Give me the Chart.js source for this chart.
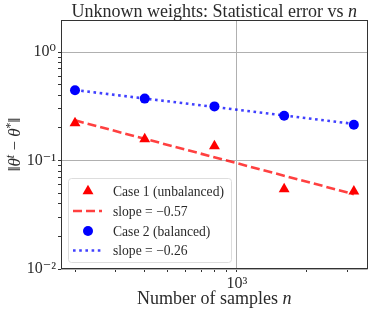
<!DOCTYPE html>
<html>
<head>
<meta charset="utf-8">
<script src="https://cdn.jsdelivr.net/npm/chart.js@4"></script>
<style>
  body { margin: 0; background: #fff; }
  canvas { display: block; }
</style>
</head>
<body>
<canvas id="myChart" width="374" height="312"></canvas>
<script>
// data
const nSamples = [200, 400, 800, 1600, 3200];
const case1Err = [0.222, 0.158, 0.136, 0.0547, 0.052];
const case2Err = [0.445, 0.373, 0.316, 0.259, 0.214];
const fitN = [200, 3200];
const case1Fit = [0.235, 0.049];
const case2Fit = [0.447, 0.218];

const seriesLabels = ["Case 1 (unbalanced)", "slope = \u22120.57", "Case 2 (balanced)", "slope = \u22120.26"];

const xMajorTicks = [1000];
const xMajorLabels = ["10\u00b3"];
const yMajorTicks = [0.01, 0.1, 1];
const yMajorLabels = ["10\u207b\u00b2", "10\u207b\u00b9", "10\u2070"];

const FAM = "'Liberation Serif', 'DejaVu Serif', serif";

function pts(xs, ys) {
    return xs.map((x, i) => ({x: x, y: ys[i]}));
}

function isMajor(v, majors) {
    return majors.some(m => Math.abs(v - m) / m < 1e-6);
}

// minor ticks 1..9 x 10^k between min and max
function logTicks(min, max) {
    var out = [];
    for (var e = Math.floor(Math.log10(min)); e <= Math.ceil(Math.log10(max)); e++) {
        for (var s = 1; s < 10; s++) {
            var v = s * Math.pow(10, e);
            if (v >= min && v <= max) out.push({value: v});
        }
    }
    return out;
}

// draw text made of runs (normal / italic / superscript), centred on cx
function drawRuns(ctx, runs, cx, cy, size) {
    var widths = [], total = 0;
    runs.forEach(r => {
        ctx.font = (r.italic ? "italic " : "") + (r.sup ? size * 0.7 : size) + "px " + FAM;
        var w = ctx.measureText(r.text).width;
        widths.push(w);
        total += w;
    });
    var x = cx - total / 2;
    runs.forEach((r, i) => {
        ctx.font = (r.italic ? "italic " : "") + (r.sup ? size * 0.7 : size) + "px " + FAM;
        ctx.fillText(r.text, x, cy - (r.sup ? size * 0.38 : 0));
        x += widths[i];
    });
}

const textPlugin = {
    id: "texts",
    afterDraw(chart) {
        var ctx = chart.ctx, a = chart.chartArea;
        ctx.save();
        // frame
        ctx.strokeStyle = "#333";
        ctx.lineWidth = 1;
        ctx.strokeRect(Math.round(a.left) + 0.5, Math.round(a.top) + 0.5,
            Math.round(a.right - a.left) - 1, Math.round(a.bottom - a.top) - 1);

        ctx.fillStyle = "#2a2a2a";
        ctx.textBaseline = "alphabetic";
        ctx.textAlign = "left";
        var cx = (a.left + a.right) / 2;
        drawRuns(ctx, [{text: "Unknown weights: Statistical error vs "}, {text: "n", italic: true}], cx, 17, 18);
        drawRuns(ctx, [{text: "Number of samples "}, {text: "n", italic: true}], cx, 304, 18);

        ctx.translate(20, (a.top + a.bottom) / 2);
        ctx.rotate(-Math.PI / 2);
        drawRuns(ctx, [
            {text: "\u2016"}, {text: "\u03b8", italic: true}, {text: "t", italic: true, sup: true},
            {text: " \u2212 "}, {text: "\u03b8", italic: true}, {text: "*", sup: true}, {text: "\u2016"}
        ], 0, 0, 17);
        ctx.restore();
    },
    afterDatasetsDraw(chart) {
        // legend box in the lower left of the plot
        var ctx = chart.ctx;
        var ds = chart.data.datasets;
        var bx = 68, by = 178, bw = 163, bh = 84;
        ctx.save();
        ctx.fillStyle = "rgba(255,255,255,0.8)";
        ctx.strokeStyle = "#ddd";
        ctx.lineWidth = 1;
        ctx.beginPath();
        ctx.roundRect(bx + 0.5, by + 0.5, bw, bh, 3);
        ctx.fill();
        ctx.stroke();
        ctx.font = "13.6px " + FAM;
        ctx.textBaseline = "middle";
        var rows = [191, 211, 231, 250.5];
        ds.forEach((d, i) => {
            var y = rows[i];
            if (d.showLine === false) {
                ctx.fillStyle = d.pointBackgroundColor;
                Chart.helpers.drawPoint(ctx, {pointStyle: d.pointStyle, rotation: 0, borderWidth: 0, radius: d.pointRadius}, 88, y);
            } else {
                ctx.strokeStyle = d.borderColor;
                ctx.lineWidth = d.borderWidth;
                ctx.setLineDash(d.borderDash);
                ctx.beginPath();
                ctx.moveTo(73, y);
                ctx.lineTo(102, y);
                ctx.stroke();
                ctx.setLineDash([]);
            }
            ctx.fillStyle = "#2a2a2a";
            ctx.fillText(d.label, 113, y + 1);
        });
        ctx.restore();
    }
};

const ctx = document.getElementById("myChart").getContext("2d");

new Chart(ctx, {
    type: "line",
    data: {
        datasets: [
            {
                label: seriesLabels[0],
                data: pts(nSamples, case1Err),
                showLine: false,
                pointStyle: "triangle",
                pointRadius: 6.3,
                pointBackgroundColor: "#ff0000",
                pointBorderWidth: 0,
                borderColor: "#ff0000"
            },
            {
                label: seriesLabels[1],
                data: pts(fitN, case1Fit),
                borderColor: "rgba(255,0,0,0.75)",
                borderWidth: 2.6,
                borderDash: [9, 4],
                pointRadius: 0
            },
            {
                label: seriesLabels[2],
                data: pts(nSamples, case2Err),
                showLine: false,
                pointStyle: "circle",
                pointRadius: 5,
                pointBackgroundColor: "#0000ff",
                pointBorderWidth: 0,
                borderColor: "#0000ff"
            },
            {
                label: seriesLabels[3],
                data: pts(fitN, case2Fit),
                borderColor: "rgba(0,0,255,0.75)",
                borderWidth: 2.6,
                borderDash: [2.6, 3.6],
                pointRadius: 0
            }
        ]
    },
    options: {
        responsive: false,
        animation: false,
        devicePixelRatio: 1,
        layout: {padding: {top: 20, right: 5, left: 0, bottom: 0}},
        plugins: {
            legend: {display: false},
            tooltip: {enabled: false}
        },
        scales: {
            x: {
                type: "logarithmic",
                min: 174,
                max: 3672,
                afterBuildTicks: s => { s.ticks = logTicks(s.min, s.max); },
                afterFit: s => { s.height = 43; },
                border: {display: false},
                grid: {
                    color: c => isMajor(c.tick.value, xMajorTicks) ? "#b0b0b0" : "rgba(0,0,0,0)",
                    tickColor: "#333",
                    tickLength: 3,
                    lineWidth: 1
                },
                ticks: {
                    autoSkip: false,
                    maxRotation: 0,
                    padding: 2,
                    color: "#2a2a2a",
                    font: {family: FAM, size: 16},
                    callback: function(v) {
                        var i = xMajorTicks.findIndex(m => Math.abs(v - m) / m < 1e-6);
                        return i >= 0 ? xMajorLabels[i] : "";
                    }
                }
            },
            y: {
                type: "logarithmic",
                min: 0.01,
                max: 1.98,
                afterBuildTicks: s => { s.ticks = logTicks(s.min, s.max); },
                afterFit: s => { s.width = 61; },
                border: {display: false},
                grid: {
                    color: c => isMajor(c.tick.value, yMajorTicks) ? "#b0b0b0" : "rgba(0,0,0,0)",
                    tickColor: "#333",
                    tickLength: 3,
                    lineWidth: 1
                },
                ticks: {
                    autoSkip: false,
                    padding: 2,
                    color: "#2a2a2a",
                    font: {family: FAM, size: 16},
                    callback: function(v) {
                        var i = yMajorTicks.findIndex(m => Math.abs(v - m) / m < 1e-6);
                        return i >= 0 ? yMajorLabels[i] : "";
                    }
                }
            }
        }
    },
    plugins: [textPlugin]
});
</script>
</body>
</html>
